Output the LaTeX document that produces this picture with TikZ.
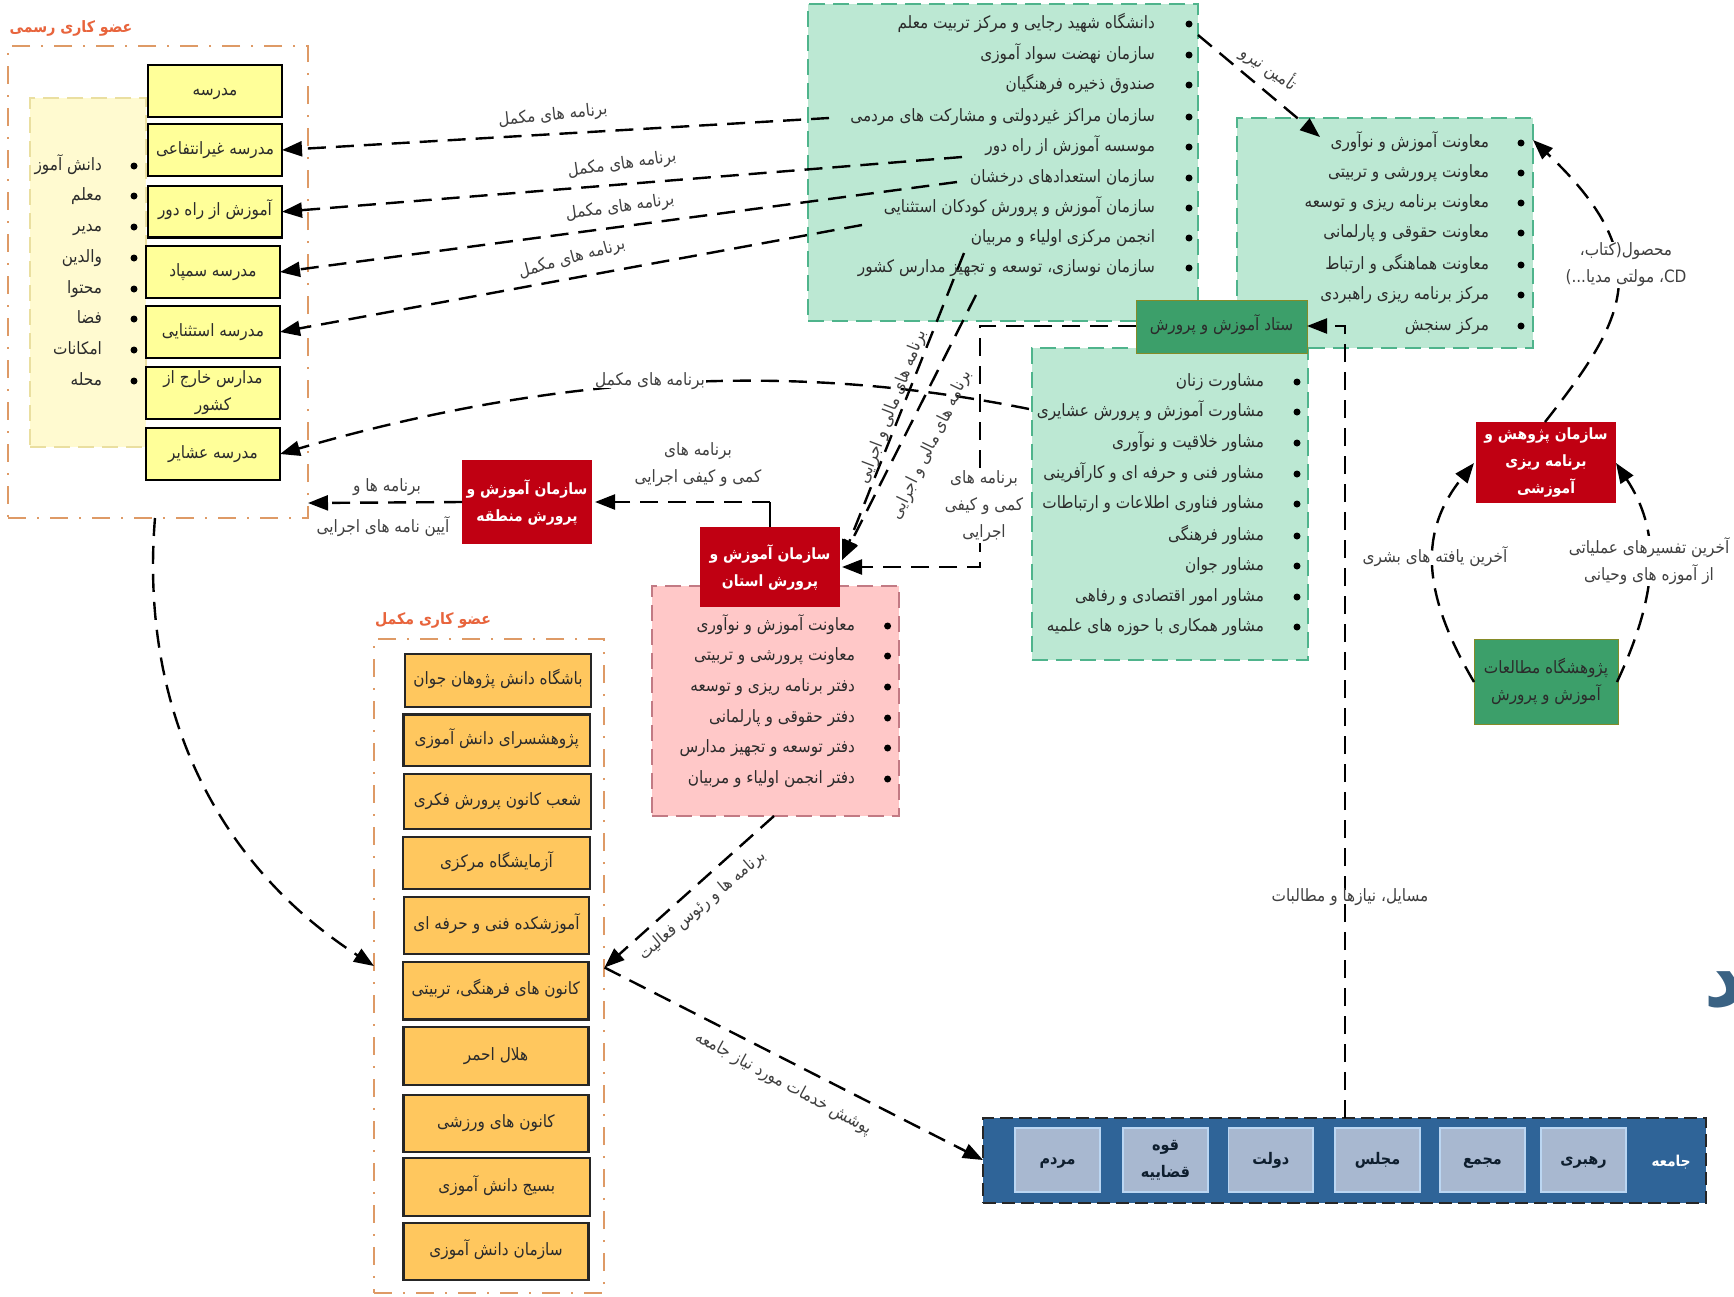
\documentclass[tikz,border=0pt]{standalone}
\usepackage{fontspec}
\usetikzlibrary{arrows.meta,calc}
\TeXXeTstate=1
\newfontfamily\arabicfont[Script=Arabic,FakeStretch=0.9]{DejaVu Sans}
\definecolor{ink}{HTML}{2B2B2B}
\definecolor{mint}{HTML}{BCE8D3}
\definecolor{mintdash}{HTML}{4FB48C}
\definecolor{darkgreen}{HTML}{3C9F6A}
\definecolor{ruby}{HTML}{C00012}
\definecolor{pinkfill}{HTML}{FFC8C8}
\definecolor{pinkdash}{HTML}{C27A84}
\definecolor{lemon}{HTML}{FFFF99}
\definecolor{cream}{HTML}{FFFAD0}
\definecolor{creamdash}{HTML}{EADFA0}
\definecolor{amber}{HTML}{FFC75E}
\definecolor{orangedash}{HTML}{DE9A66}
\definecolor{orangetitle}{HTML}{E8643C}
\definecolor{navy}{HTML}{2F6498}
\definecolor{steel}{HTML}{A8B8D0}
\definecolor{steelline}{HTML}{BBD6F2}
\definecolor{glyph}{HTML}{3A6283}
\tikzset{
  every node/.style={inner sep=0pt,outer sep=0pt,text=ink},
  one/.style={text height=10pt,text depth=2pt},
  natural/.style={text height={},text depth={}},
  basefont/.style={font=\fontsize{17}{27}\selectfont\arabicfont},
  wfont/.style={font=\fontsize{15.5}{27}\selectfont\arabicfont\bfseries,text=white},
  dashdot/.style={draw=orangedash,line width=2.4pt,dash pattern=on 18pt off 11pt on 2pt off 11pt},
  mintbox/.style={draw=mintdash,fill=mint,line width=2pt,dash pattern=on 16pt off 8pt},
  creambox/.style={draw=creamdash,fill=cream,line width=1.5pt,dash pattern=on 16pt off 8pt},
  pinkbox/.style={draw=pinkdash,fill=pinkfill,line width=2pt,dash pattern=on 16pt off 8pt},
  yellowbox/.style={draw=black,fill=lemon,line width=2.4pt,basefont,align=center,one},
  amberbox/.style={draw=black!85,fill=amber,line width=2.4pt,basefont,align=center,one},
  redbox/.style={fill=ruby,wfont,align=center},
  greenbox/.style={fill=darkgreen,draw=olive!70!darkgreen,line width=1pt,basefont,align=center},
  socbox/.style={draw=black!85,fill=navy,line width=2pt,dash pattern=on 13pt off 6pt},
  seatbox/.style={draw=steelline,fill=steel,line width=1.5pt,font=\fontsize{16}{27}\selectfont\arabicfont\bfseries,text=black!70!navy,align=center,one},
  bul/.style={circle,fill=black,minimum size=7pt},
  lab/.style={basefont,align=center,text=black!75,one},
  lbg/.style={lab,fill=white,inner sep=1pt},
  flow/.style={draw=black,line width=2.4pt,dash pattern=on 18pt off 10pt,-{Triangle[length=20pt,width=15pt]}},
  title/.style={font=\fontsize{15.7}{20}\selectfont\arabicfont\bfseries,text=orangetitle},
}
% box: name, style, x1, y1, x2, y2, text
\newcommand{\bx}[7]{%
  \pgfmathsetmacro{\bw}{#5-#3}\pgfmathsetmacro{\bh}{#6-#4}%
  \pgfmathsetmacro{\cxx}{(#3+#5)/2}\pgfmathsetmacro{\cyy}{(#4+#6)/2}%
  \node[#2,minimum width=\bw pt,minimum height=\bh pt] (#1) at (\cxx,\cyy) {#7};}
% list line: name, bullet x, text right x, y, text
\newcommand{\li}[5]{%
  \node[bul] (#1b) at (#2,#4) {};
  \node[basefont,one,anchor=east] (#1) at (#3,#4) {#5};}
\begin{document}
\begin{tikzpicture}[x=1pt,y=-1pt]
\clip (0,0) rectangle (1734,1296);
\fill[white] (0,0) rectangle (1734,1296);

% ---- formal member
\node[title] (t1) at (71,28) {\beginR عضو کاری رسمی\endR};
\bx{formal}{dashdot}{8}{46}{308}{518}{}
\bx{cream}{creambox}{30}{98}{146}{447}{}
\li{c1}{134}{102}{166}{\beginR دانش آموز\endR}
\li{c2}{134}{102}{196}{\beginR معلم\endR}
\li{c3}{134}{102}{227}{\beginR مدیر\endR}
\li{c4}{134}{102}{258}{\beginR والدین\endR}
\li{c5}{134}{102}{289}{\beginR محتوا\endR}
\li{c6}{134}{102}{319}{\beginR فضا\endR}
\li{c7}{134}{102}{350}{\beginR امکانات\endR}
\li{c8}{134}{102}{381}{\beginR محله\endR}
\bx{y1}{yellowbox}{148}{65}{282}{117}{\beginR مدرسه\endR}
\bx{y2}{yellowbox}{148}{124}{282}{176}{\beginR مدرسه غیرانتفاعی\endR}
\bx{y3}{yellowbox}{148}{186}{282}{237.5}{\beginR آموزش از راه دور\endR}
\bx{y4}{yellowbox}{146}{246}{280}{298}{\beginR مدرسه سمپاد\endR}
\bx{y5}{yellowbox}{146}{306}{280}{358}{\beginR مدرسه استثنایی\endR}
\bx{y6}{yellowbox,natural}{146}{367}{280}{419}{\beginR مدارس خارج از\endR\\\beginR کشور\endR}
\bx{y7}{yellowbox}{146}{428}{280}{480}{\beginR مدرسه عشایر\endR}

% ---- top mint box
\bx{mintA}{mintbox}{808}{4}{1198}{321}{}
\li{a1}{1189}{1155}{24}{\beginR دانشگاه شهید رجایی و مرکز تربیت معلم\endR}
\li{a2}{1189}{1155}{55}{\beginR سازمان نهضت سواد آموزی\endR}
\li{a3}{1189}{1155}{85}{\beginR صندوق ذخیره فرهنگیان\endR}
\li{a4}{1189}{1155}{117}{\beginR سازمان مراکز غیردولتی و مشارکت های مردمی\endR}
\li{a5}{1189}{1155}{147}{\beginR موسسه آموزش از راه دور\endR}
\li{a6}{1189}{1155}{178}{\beginR سازمان استعدادهای درخشان\endR}
\li{a7}{1189}{1155}{208}{\beginR سازمان آموزش و پرورش کودکان استثنایی\endR}
\li{a8}{1189}{1155}{238}{\beginR انجمن مرکزی اولیاء و مربیان\endR}
\li{a9}{1189}{1155}{268}{\beginR سازمان نوسازی، توسعه و تجهیز مدارس کشور\endR}

% ---- right mint box
\bx{mintB}{mintbox}{1237}{118}{1533}{348}{}
\li{b1}{1521}{1489}{143}{\beginR معاونت آموزش و نوآوری\endR}
\li{b2}{1521}{1489}{173}{\beginR معاونت پرورشی و تربیتی\endR}
\li{b3}{1521}{1489}{203}{\beginR معاونت برنامه ریزی و توسعه\endR}
\li{b4}{1521}{1489}{233}{\beginR معاونت حقوقی و پارلمانی\endR}
\li{b5}{1521}{1489}{265}{\beginR معاونت هماهنگی و ارتباط\endR}
\li{b6}{1521}{1489}{295}{\beginR مرکز برنامه ریزی راهبردی\endR}
\li{b7}{1521}{1489}{326}{\beginR مرکز سنجش\endR}

% ---- lower mint box
\bx{mintC}{mintbox}{1032}{348}{1308}{660}{}
\li{d1}{1297}{1264}{382}{\beginR مشاورت زنان\endR}
\li{d2}{1297}{1264}{412}{\beginR مشاورت آموزش و پرورش عشایری\endR}
\li{d3}{1297}{1264}{443}{\beginR مشاور خلاقیت و نوآوری\endR}
\li{d4}{1297}{1264}{474}{\beginR مشاور فنی و حرفه ای و کارآفرینی\endR}
\li{d5}{1297}{1264}{504}{\beginR مشاور فناوری اطلاعات و ارتباطات\endR}
\li{d6}{1297}{1264}{536}{\beginR مشاور فرهنگی\endR}
\li{d7}{1297}{1264}{566}{\beginR مشاور جوان\endR}
\li{d8}{1297}{1264}{597}{\beginR مشاور امور اقتصادی و رفاهی\endR}
\li{d9}{1297}{1264}{627}{\beginR مشاور همکاری با حوزه های علمیه\endR}
\bx{hq}{greenbox,one}{1136}{300}{1307}{353}{\beginR ستاد آموزش و پرورش\endR}

% ---- pink box
\bx{pink}{pinkbox}{651.5}{586}{899}{816}{}
\li{p1}{887.6}{855}{626}{\beginR معاونت آموزش و نوآوری\endR}
\li{p2}{887.6}{855}{656}{\beginR معاونت پرورشی و تربیتی\endR}
\li{p3}{887.6}{855}{687}{\beginR دفتر برنامه ریزی و توسعه\endR}
\li{p4}{887.6}{855}{718}{\beginR دفتر حقوقی و پارلمانی\endR}
\li{p5}{887.6}{855}{748}{\beginR دفتر توسعه و تجهیز مدارس\endR}
\li{p6}{887.6}{855}{779}{\beginR دفتر انجمن اولیاء و مربیان\endR}
\bx{prov}{redbox}{700}{527}{840}{607}{\beginR سازمان آموزش و\endR\\\beginR پرورش استان\endR}
\bx{dist}{redbox}{462}{460}{592}{544}{\beginR سازمان آموزش و\endR\\\beginR پرورش منطقه\endR}

% ---- research
\bx{res}{redbox}{1476}{422}{1616}{503}{\beginR سازمان پژوهش و\endR\\\beginR برنامه ریزی\endR\\\beginR آموزشی\endR}
\bx{inst}{greenbox}{1474}{639}{1618}{724}{\beginR پژوهشگاه مطالعات\endR\\\beginR آموزش و پرورش\endR}

% ---- complementary member
\node[title] (t2) at (433,620) {\beginR عضو کاری مکمل\endR};
\bx{compl}{dashdot}{374}{639}{604}{1293}{}
\bx{o1}{amberbox}{405}{654}{591}{707}{\beginR باشگاه دانش پژوهان جوان\endR}
\bx{o2}{amberbox}{403.5}{714.5}{590}{766}{\beginR پژوهشسرای دانش آموزی\endR}
\bx{o3}{amberbox}{404}{774}{591}{829}{\beginR شعب کانون پرورش فکری\endR}
\bx{o4}{amberbox}{403}{837}{590}{889}{\beginR آزمایشگاه مرکزی\endR}
\bx{o5}{amberbox}{404}{897}{589}{954}{\beginR آموزشکده فنی و حرفه ای\endR}
\bx{o6}{amberbox}{403}{962}{588.5}{1019.5}{\beginR کانون های فرهنگی، تربیتی\endR}
\bx{o7}{amberbox}{403.5}{1027}{588.5}{1085}{\beginR هلال احمر\endR}
\bx{o8}{amberbox}{403.5}{1095}{588.5}{1152}{\beginR کانون های ورزشی\endR}
\bx{o9}{amberbox}{403.5}{1158}{590}{1216}{\beginR بسیج دانش آموزی\endR}
\bx{o10}{amberbox}{403.5}{1223}{588.5}{1280}{\beginR سازمان دانش آموزی\endR}

% ---- society
\bx{soc}{socbox}{983}{1118}{1706}{1203}{}
\bx{s1}{seatbox}{1015}{1128}{1100}{1192}{\beginR مردم\endR}
\bx{s2}{seatbox,natural}{1123}{1128}{1208}{1192}{\beginR قوه\endR\\\beginR قضاییه\endR}
\bx{s3}{seatbox}{1228.5}{1128}{1313}{1192}{\beginR دولت\endR}
\bx{s4}{seatbox}{1335}{1128}{1420}{1192}{\beginR مجلس\endR}
\bx{s5}{seatbox}{1440}{1128}{1525}{1192}{\beginR مجمع\endR}
\bx{s6}{seatbox}{1541}{1128}{1626}{1192}{\beginR رهبری\endR}
\node[font=\fontsize{15}{20}\selectfont\arabicfont\bfseries,text=white,one] (socname) at (1671,1162) {\beginR جامعه\endR};
\node[font=\fontsize{84}{86}\selectfont\arabicfont\bfseries,text=glyph,anchor=west] (bigglyph) at (1704,990) {\beginR د\endR};

% ---- named free ends
\coordinate (e1) at (829,118);
\coordinate (e2) at (962,157);
\coordinate (e3) at (957,182);
\coordinate (e4) at (862,225);
\coordinate (e5) at (1029,409);
\coordinate (fa) at (964,253);
\coordinate (fb) at (976,295);
\coordinate (tipP) at (842,560);
\coordinate (tipQ) at (842,567);
\coordinate (hqL) at (1136,326);
\coordinate (hqR) at (1307,326);
\coordinate (bend1) at (980,326);
\coordinate (bend2) at (980,567);
\coordinate (spine) at (1345,326);
\coordinate (socT) at (1345,1118);
\coordinate (provT) at (770,527);
\coordinate (provK) at (770,502);
\coordinate (distR) at (595,502);
\coordinate (distL) at (462,502);
\coordinate (formR) at (308,503);
\coordinate (formB) at (155,518);
\coordinate (complL) at (374,966);
\coordinate (complR) at (604.5,967.5);
\coordinate (pinkB) at (774,816);
\coordinate (socL) at (983,1160);
\coordinate (mintAR) at (1198,35);
\coordinate (mintBT) at (1320,137);
\coordinate (resT) at (1545,422);
\coordinate (mintBR) at (1533,140);
\coordinate (instL) at (1474,682);
\coordinate (instR) at (1617,682);
\coordinate (resL) at (1474,463);
\coordinate (resR) at (1616,463);

% ---- connectors
\draw[flow] (e1) -- (y2.east);
\draw[flow] (e2) -- (y3.east);
\draw[flow] (e3) -- (y4.east);
\draw[flow] (e4) -- (y5.east);
\draw[flow] (e5) .. controls (860,375) and (620,355) .. (y7.east);
\draw[flow] (fa) -- (tipP);
\draw[flow] (fb) -- (tipP);
\draw[flow] (hqL) -- (bend1) -- (bend2) -- (tipQ);
\draw[flow] (socT) -- (spine) -- (hqR);
\draw[draw=black,line width=2pt] (provT) -- (provK);
\draw[flow] (provK) -- (distR);
\draw[flow] (distL) -- (formR);
\draw[flow] (formB) .. controls (140,700) and (210,860) .. (complL);
\draw[flow] (pinkB) -- (complR);
\draw[flow] (complR) -- (socL);
\draw[flow] (mintAR) -- (mintBT);
\draw[flow] (resT) .. controls (1625,320) and (1660,260) .. (mintBR);
\draw[flow] (instL) .. controls (1420,590) and (1420,530) .. (resL);
\draw[flow] (instR) .. controls (1660,590) and (1660,530) .. (resR);

% ---- connector labels
\node[lab,rotate=6] (l1) at (553,116) {\beginR برنامه های مکمل\endR};
\node[lab,rotate=8] (l2) at (622,165) {\beginR برنامه های مکمل\endR};
\node[lab,rotate=8] (l3) at (620,208) {\beginR برنامه های مکمل\endR};
\node[lab,rotate=15] (l4) at (572,259) {\beginR برنامه های مکمل\endR};
\node[lbg] (l5) at (650,381) {\beginR برنامه های مکمل\endR};
\node[lab,rotate=69] (l6) at (893,407) {\beginR برنامه های مالی و اجرایی\endR};
\node[lab,rotate=64] (l7) at (932,445) {\beginR برنامه های مالی و اجرایی\endR};
\node[lbg,natural] (l8) at (984,506) {\beginR برنامه های\endR\\\beginR کمی و کیفی\endR\\\beginR اجرایی\endR};
\node[lab,natural] (l9) at (698,465) {\beginR برنامه های\endR\\\beginR کمی و کیفی اجرایی\endR};
\node[lab] (l10) at (387,487) {\beginR برنامه ها و\endR};
\node[lab] (l11) at (383,528) {\beginR آیین نامه های اجرایی\endR};
\node[lab,rotate=40] (l12) at (703,906) {\beginR برنامه ها و رئوس فعالیت\endR};
\node[lab,rotate=-28.5] (l13) at (783,1084) {\beginR پوشش خدمات مورد نیاز جامعه\endR};
\node[lbg] (l14) at (1350,897) {\beginR مسایل، نیازها و مطالبات\endR};
\node[lab,rotate=-35] (l15) at (1268,70) {\beginR تأمین نیرو\endR};
\node[lbg,natural] (l16) at (1626,265) {\beginR محصول(کتاب،\endR\\\beginR\beginL CD\endL، مولتی مدیا...)\endR};
\node[lbg] (l17) at (1435,558) {\beginR آخرین یافته های بشری\endR};
\node[lbg,natural] (l18) at (1649,561) {\beginR آخرین تفسیرهای عملیاتی\endR\\\beginR از آموزه های وحیانی\endR};
\end{tikzpicture}
\end{document}
